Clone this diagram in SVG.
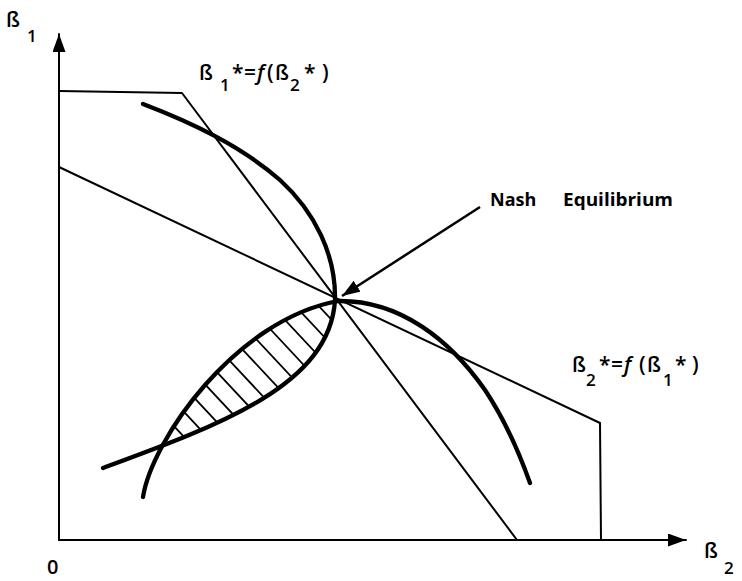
<svg xmlns="http://www.w3.org/2000/svg" width="742" height="581" viewBox="0 0 742 581">
<style>
  .ln { fill: none; stroke: #000; stroke-width: 2; stroke-linecap: round; stroke-linejoin: round; }
  .thick { fill: none; stroke: #000; stroke-width: 4.3; stroke-linecap: round; stroke-linejoin: round; }
  .hatch { fill: none; stroke: #000; stroke-width: 1.8; }
  .lbl { font-family: "Open Sans", "Liberation Sans", sans-serif; font-size: 21px; font-weight: 600; fill: #000; }
  .sub { font-size: 17px; }
  .zero { font-size: 20px; }
  .it { font-style: italic; }
  .bold { font-weight: bold; font-size: 18px; }
</style>
<defs>
  <marker id="arr" markerUnits="userSpaceOnUse" markerWidth="18" markerHeight="13" refX="18" refY="6.5" orient="auto">
    <path d="M0,0 L18,6.5 L0,13 z" fill="#000"/>
  </marker>
  <clipPath id="lens">
    <polygon points="163,445 169.5,433.1 185.9,409 205.3,384.7 227.5,361.7 252.1,340.9 279,323.2 307.7,309.6 336,300.5 330.4,324.3 320.1,345.9 304.8,365.6 285,383.5 261,399.8 233.6,414.8 203.7,428.8 171.6,442.2"/>
  </clipPath>
</defs>
<rect width="742" height="581" fill="#fff"/>

<g id="axes">
  <line class="ln" x1="59" y1="540" x2="59" y2="34" marker-end="url(#arr)"/>
  <line class="ln" x1="59" y1="540" x2="686" y2="540" marker-end="url(#arr)"/>
  <text class="lbl" x="6" y="27">ß</text>
  <text class="lbl sub" x="27" y="42">1</text>
  <text class="lbl" x="704" y="558">ß</text>
  <text class="lbl sub" x="724" y="574">2</text>
  <text class="lbl zero" x="47" y="574">0</text>
</g>

<g id="region-b1">
  <polyline class="ln" points="59,91 182,93 517,540"/>
</g>
<g id="region-b2">
  <polyline class="ln" points="59,167 600,423 601,540"/>
</g>

<g id="hatching" clip-path="url(#lens)">
  <path class="hatch" d="M140,389.8 L350,614.5 M140,364.8 L350,589.5 M140,339.8 L350,564.5 M140,314.8 L350,539.5 M140,289.8 L350,514.5 M140,264.8 L350,489.5 M140,239.8 L350,464.5 M140,214.8 L350,439.5 M140,189.8 L350,414.5 M140,164.8 L350,389.5 M140,139.8 L350,364.5 M140,114.8 L350,339.5"/>
</g>

<g id="curve-b1">
  <path class="thick" d="M143,104 C190,122 240,145 280,180 C315,212 336,255 335,300 C330,385 220,425 103,468"/>
  <text class="lbl">
    <tspan x="199" y="80">ß</tspan><tspan class="sub" x="220" y="91">1</tspan><tspan x="232" y="80">*</tspan><tspan x="244" y="80">=</tspan><tspan class="it" x="257" y="80">f</tspan><tspan x="267" y="80">(</tspan><tspan x="275" y="80">ß</tspan><tspan class="sub" x="290" y="91">2</tspan><tspan x="304" y="80">*</tspan><tspan x="322" y="80">)</tspan>
  </text>
</g>

<g id="curve-b2">
  <path class="thick" d="M143,497 C152,440 235,320 338,301 C400,300 450,340 485,390 C505,420 520,455 530,483"/>
  <text class="lbl">
    <tspan x="572" y="372">ß</tspan><tspan class="sub" x="586" y="386">2</tspan><tspan x="599" y="372">*</tspan><tspan x="611" y="372">=</tspan><tspan class="it" x="624" y="372">f</tspan><tspan x="639" y="372">(</tspan><tspan x="647" y="372">ß</tspan><tspan class="sub" x="663" y="386">1</tspan><tspan x="675" y="372">*</tspan><tspan x="692" y="372">)</tspan>
  </text>
</g>

<g id="nash">
  <line x1="480" y1="207" x2="342" y2="296" stroke="#000" stroke-width="2.5" marker-end="url(#arr)"/>
  <text class="lbl bold" x="490" y="206">Nash</text>
  <text class="lbl bold" x="563" y="206" textLength="110" lengthAdjust="spacingAndGlyphs">Equilibrium</text>
</g>
</svg>
